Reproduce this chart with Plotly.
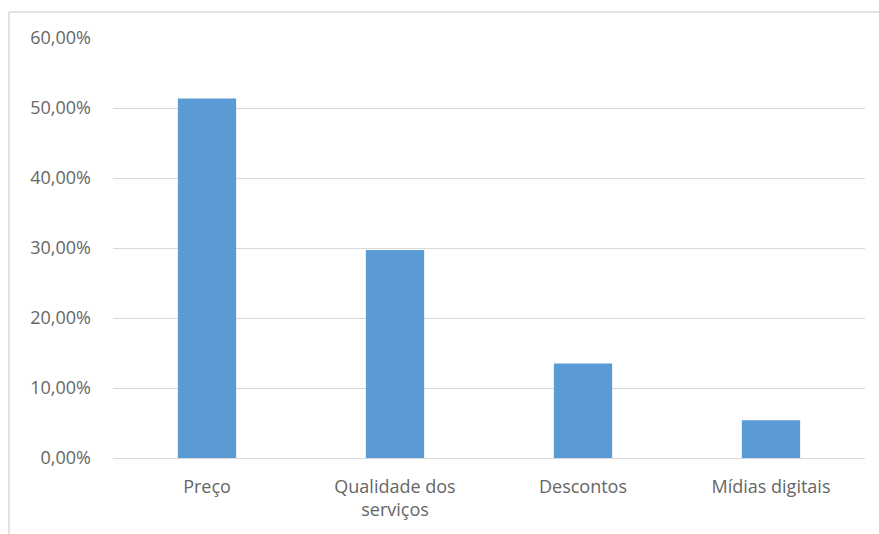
import plotly.graph_objects as go

# Survey results: share of respondents per factor
categorias = ["Preço", "Qualidade dos<br>serviços", "Descontos", "Mídias digitais"]
percentuais = [51.35, 29.73, 13.51, 5.41]

# Y axis ticks (Brazilian decimal format)
tick_vals = [0, 10, 20, 30, 40, 50, 60]
tick_text = ["0,00%", "10,00%", "20,00%", "30,00%", "40,00%", "50,00%", "60,00%"]

GRID = "#d9d9d9"
TEXT = "#666666"
FONT = "Open Sans"
FSIZE = 18

fig = go.Figure(
    go.Bar(
        x=categorias,
        y=percentuais,
        marker=dict(color="#5b9bd5", line=dict(width=0)),
        width=0.31,
        hoverinfo="x+y",
    )
)

W, H = 879, 534
L, R, T, B = 113, 14, 38, 76

fig.update_layout(
    width=W,
    height=H,
    margin=dict(l=L, r=R, t=T, b=B),
    paper_bgcolor="white",
    plot_bgcolor="white",
    showlegend=False,
    font=dict(family=FONT, size=FSIZE, color=TEXT),
    xaxis=dict(
        showgrid=False,
        showline=False,
        zeroline=False,
        ticks="",
        ticklabelstandoff=16,
        tickfont=dict(family=FONT, size=FSIZE, color=TEXT),
    ),
    yaxis=dict(
        range=[0, 60],
        tickvals=tick_vals,
        ticktext=tick_text,
        showgrid=True,
        gridcolor=GRID,
        gridwidth=1,
        zeroline=True,
        zerolinecolor=GRID,
        zerolinewidth=1,
        showline=False,
        ticks="",
        ticklabelstandoff=21,
        tickfont=dict(family=FONT, size=FSIZE, color=TEXT),
    ),
    shapes=[
        # chart frame: top and left edges
        dict(type="line", xref="paper", yref="paper",
             x0=(9 - L) / (W - L - R), x1=(W - L) / (W - L - R),
             y0=(H - B - 12) / (H - T - B), y1=(H - B - 12) / (H - T - B),
             line=dict(color=GRID, width=1.5)),
        dict(type="line", xref="paper", yref="paper",
             x0=(9 - L) / (W - L - R), x1=(9 - L) / (W - L - R),
             y0=(H - B - 12) / (H - T - B), y1=-B / (H - T - B),
             line=dict(color=GRID, width=1.5)),
    ],
)

fig.write_html("out.html")
